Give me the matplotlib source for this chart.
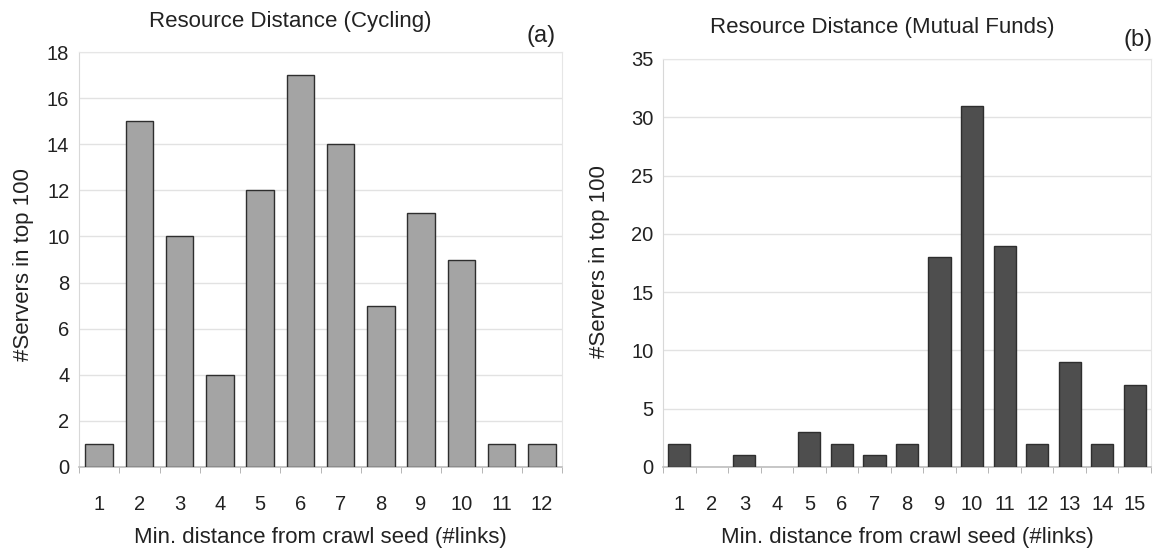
import matplotlib.pyplot as plt
import numpy as np

plt.rcParams["font.family"] = ["Liberation Sans", "DejaVu Sans"]

# panel (a): cycling
cycling_dist = list(range(1, 13))
cycling_servers = [1, 15, 10, 4, 12, 17, 14, 7, 11, 9, 1, 1]

# panel (b): mutual funds
funds_dist = list(range(1, 16))
funds_servers = [2, 0, 1, 0, 3, 2, 1, 2, 18, 31, 19, 2, 9, 2, 7]

W, H = 1162, 549
fig = plt.figure(figsize=(W / 100, H / 100), dpi=100)


def px_axes(x0, x1, y0, y1):
    # pixel box -> figure fraction
    return fig.add_axes([x0 / W, 1 - y1 / H, (x1 - x0) / W, (y1 - y0) / H])


def draw_panel(ax, dist, servers, ymax, ystep, color):
    x = np.arange(len(dist))
    edges = ["#2e2e2e" if v > 0 else "none" for v in servers]
    ax.bar(x, servers, width=0.68, color=color, edgecolor=edges, linewidth=1.0, zorder=3)
    ax.set_xlim(-0.5, len(dist) - 0.5)
    ax.set_ylim(0, ymax)
    ax.set_yticks(np.arange(0, ymax + 1, ystep))
    ax.set_xticks(x)
    ax.set_xticklabels([str(d) for d in dist])
    ax.set_xticks(np.arange(-0.5, len(dist), 1), minor=True)
    ax.tick_params(axis="x", which="major", length=0, pad=20, labelsize=14.5, colors="#222222")
    ax.tick_params(axis="x", which="minor", length=4, color="#aaaaaa", direction="out")
    ax.tick_params(axis="y", length=0, pad=7, labelsize=14.5, colors="#222222")
    ax.grid(True, axis="y", color="#e2e2e2", linewidth=1.0, zorder=0)
    for side in ["top", "right"]:
        ax.spines[side].set_color("#e6e6e6")
    ax.spines["left"].set_color("#d8d8d8")
    ax.spines["bottom"].set_color("#bdbdbd")
    ax.spines["bottom"].set_linewidth(1.2)


ax1 = px_axes(79, 562, 52, 467)
draw_panel(ax1, cycling_dist, cycling_servers, 18, 2, "#a4a4a4")

ax2 = px_axes(663, 1151, 59, 467)
draw_panel(ax2, funds_dist, funds_servers, 35, 5, "#4e4e4e")

txt = dict(color="#222222", fontsize=16)
fig.text(290 / W, 1 - 22 / H, "Resource Distance (Cycling)", ha="center", va="center", **txt)
fig.text(882 / W, 1 - 28 / H, "Resource Distance (Mutual Funds)", ha="center", va="center", **txt)
fig.text(541 / W, 1 - 36 / H, "(a)", ha="center", va="center", color="#222222", fontsize=17)
fig.text(1138 / W, 1 - 40 / H, "(b)", ha="center", va="center", color="#222222", fontsize=17)

fig.text(320 / W, 1 - 537 / H, "Min. distance from crawl seed (#links)", ha="center", va="center", **txt)
fig.text(907 / W, 1 - 537 / H, "Min. distance from crawl seed (#links)", ha="center", va="center", **txt)
fig.text(24 / W, 1 - 265 / H, "#Servers in top 100", rotation=90, ha="center", va="center", **txt)
fig.text(600 / W, 1 - 262 / H, "#Servers in top 100", rotation=90, ha="center", va="center", **txt)

fig.savefig("out.png", dpi=100, facecolor="white")
